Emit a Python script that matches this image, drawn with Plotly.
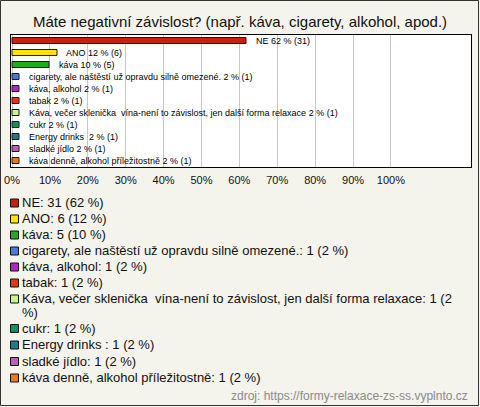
import plotly.graph_objects as go

labels = [
    "NE", "ANO", "káva",
    "cigarety, ale naštěstí už opravdu silně omezené.",
    "káva, alkohol", "tabak",
    "Káva, večer sklenička\u00a0 vína-není to závislost, jen další forma relaxace",
    "cukr", "Energy drinks\u00a0", "sladké jídlo", "káva denně, alkohol příležitostně",
]
counts = [31, 6, 5, 1, 1, 1, 1, 1, 1, 1, 1]
percents = [62, 12, 10, 2, 2, 2, 2, 2, 2, 2, 2]
colors = ["#C8200C", "#FFE400", "#22AA22", "#4A78E0", "#B522C8", "#DD3A10",
          "#C6F58A", "#139060", "#24788C", "#BB5EC0", "#EE7A14"]
tick_vals = [0, 10, 20, 30, 40, 50, 60, 70, 80, 90, 100]
tick_text = [f"{v}%" for v in tick_vals]

W, H = 480, 407
def px(x):
    return x / W
def py(y):
    return 1 - y / H

FONT = "Liberation Sans, Arial, sans-serif"
rows = list(range(len(labels)))

fig = go.Figure()
fig.add_trace(go.Bar(
    x=percents, y=rows, orientation="h", width=0.44,
    marker=dict(color=colors, line=dict(color="#1a1a1a", width=1)),
    hoverinfo="skip", showlegend=False,
))

annotations = []
# bar labels
for i, (lab, c, p) in enumerate(zip(labels, counts, percents)):
    annotations.append(dict(
        x=p, y=i, xref="x", yref="y", text=f"{lab} {p} % ({c})",
        xanchor="left", yanchor="middle", xshift=7, showarrow=False,
        font=dict(family=FONT, size=9, color="#000"),
    ))

# title
annotations.append(dict(
    x=0.5, y=py(21), xref="paper", yref="paper",
    text="Máte negativní závislost? (např. káva, cigarety, alkohol, apod.)",
    xanchor="center", yanchor="middle", showarrow=False,
    font=dict(family=FONT, size=15, color="#111"),
))

# custom legend
leg_y = [202.5, 218.5, 234.5, 250.5, 266.5, 282.5, 298.5, 328, 344.5, 361, 377.5]
shapes = []
for i, (lab, c, p) in enumerate(zip(labels, counts, percents)):
    yc = leg_y[i]
    txt = f"{lab}: {c} ({p} %)"
    lines = [txt]
    if len(txt) > 78:
        cut = txt.rfind(" ", 0, 79)
        lines = [txt[:cut], txt[cut + 1:]]
    for k, ln in enumerate(lines):
        annotations.append(dict(
            x=px(19.5), y=py(yc + 13.5 * k), xref="paper", yref="paper", text=ln,
            xanchor="left", yanchor="middle", showarrow=False,
            font=dict(family=FONT, size=13, color="#111"),
        ))
    shapes.append(dict(
        type="rect", xref="paper", yref="paper",
        x0=px(10.5), x1=px(18.5), y0=py(yc - 3.5), y1=py(yc + 4.5),
        fillcolor=colors[i], line=dict(color="#111", width=1),
    ))

# source
annotations.append(dict(
    x=px(470), y=py(396), xref="paper", yref="paper",
    text="zdroj: https://formy-relaxace-zs-ss.vyplnto.cz",
    xanchor="right", yanchor="middle", showarrow=False,
    font=dict(family=FONT, size=12, color="#8a8a8a"),
))

# outer frame
shapes.append(dict(
    type="rect", xref="paper", yref="paper",
    x0=px(0.5), x1=px(478.5), y0=py(0.5), y1=py(405.5),
    line=dict(color="#333", width=1), fillcolor="rgba(0,0,0,0)", layer="below",
))

fig.update_layout(
    width=W, height=H,
    margin=dict(l=0, r=0, t=0, b=0),
    paper_bgcolor="#F4F3EC", plot_bgcolor="#FFFFFF",
    showlegend=False, bargap=0,
    annotations=annotations, shapes=shapes,
    xaxis=dict(
        domain=[px(10.5), px(470.5)], range=[-0.4, 121],
        tickvals=tick_vals, ticktext=tick_text,
        showgrid=True, gridcolor="#C8C8C8", gridwidth=1, zeroline=False,
        showline=True, mirror=True, linecolor="#000", linewidth=1,
        ticks="", ticklabelstandoff=3, automargin=False,
        tickfont=dict(family=FONT, size=11, color="#111"), fixedrange=True,
    ),
    yaxis=dict(
        domain=[py(167), py(35)], range=[10.5, -0.5],
        showticklabels=False, showgrid=False, zeroline=False,
        showline=True, mirror=True, linecolor="#000", linewidth=1,
        ticks="", automargin=False, fixedrange=True,
    ),
)

fig.write_html(
    "out.html",
    config={"displayModeBar": False},
    post_script="document.body.style.margin='0';document.body.style.overflow='hidden';",
)
